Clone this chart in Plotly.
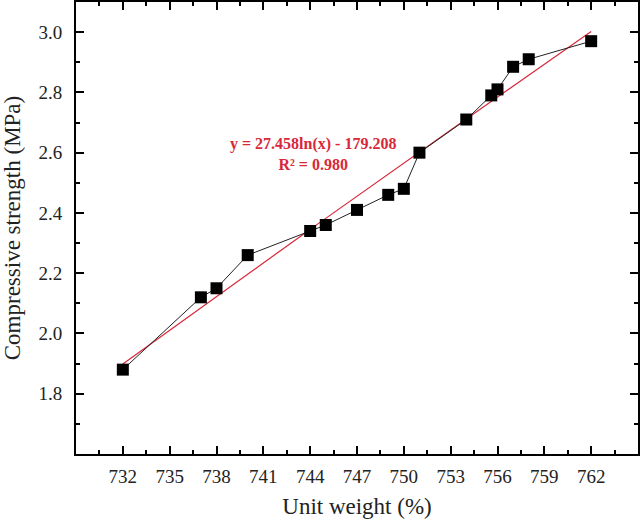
import numpy as np
import plotly.graph_objects as go

# measured points
unit_weight = [732, 737, 738, 740, 744, 745, 747, 749, 750, 751, 754, 755.6, 756, 757, 758, 762]
strength = [1.88, 2.12, 2.15, 2.26, 2.34, 2.36, 2.41, 2.46, 2.48, 2.60, 2.71, 2.79, 2.81, 2.885, 2.91, 2.97]

# logarithmic fit printed on the chart
fit_a = 27.458
fit_b = -179.208
fit_r2 = 0.980

x_ticks = [732, 735, 738, 741, 744, 747, 750, 753, 756, 759, 762]
y_ticks = [1.8, 2.0, 2.2, 2.4, 2.6, 2.8, 3.0]

serif = "Liberation Serif"
red = "#d8283a"

fit_x = np.linspace(min(unit_weight), max(unit_weight), 61)
fit_y = fit_a * np.log(fit_x) + fit_b

fig = go.Figure()

fig.add_trace(go.Scatter(
    x=fit_x, y=fit_y,
    mode="lines",
    line=dict(color=red, width=1.2),
    showlegend=False
))

fig.add_trace(go.Scatter(
    x=unit_weight, y=strength,
    mode="lines+markers",
    line=dict(color="#222222", width=1),
    marker=dict(symbol="square", size=12, color="black"),
    showlegend=False
))

fig.add_annotation(
    text=f"<b>y = {fit_a}ln(x) - {abs(fit_b):.3f}<br>R² = {fit_r2:.3f}</b>",
    x=744.2, y=2.594,
    xref="x", yref="y",
    showarrow=False,
    align="center",
    font=dict(family=serif, size=16, color=red)
)

axis_style = dict(
    showline=True, linecolor="black", linewidth=2, mirror="allticks",
    ticks="inside", ticklen=8, tickwidth=2, tickcolor="black",
    showgrid=False, zeroline=False, automargin=False,
    tickfont=dict(family=serif, size=19, color="#222222"),
)

fig.update_xaxes(
    range=[729, 765], tickvals=x_ticks,
    minor=dict(dtick=1.5, tick0=732, ticks="inside", ticklen=4, tickwidth=2, tickcolor="black"),
    title=dict(text="Unit weight (%)", font=dict(family=serif, size=23, color="#222222"), standoff=12),
    ticklabelstandoff=4,
    **axis_style
)
fig.update_yaxes(
    range=[1.6, 3.1], tickvals=y_ticks, tickformat=".1f",
    minor=dict(dtick=0.1, tick0=1.6, ticks="inside", ticklen=4, tickwidth=2, tickcolor="black"),
    title=dict(text="Compressive strength (MPa)", font=dict(family=serif, size=23, color="#222222"), standoff=14),
    ticklabelstandoff=8,
    **axis_style
)

fig.update_layout(
    width=640, height=522,
    margin=dict(l=76, r=2, t=2, b=68),
    paper_bgcolor="white", plot_bgcolor="white",
    font_family=serif,
)

# the page body has a default margin that would shift the figure
fig.write_html("out.html", config={"displayModeBar": False},
               post_script="document.body.style.margin='0';")
